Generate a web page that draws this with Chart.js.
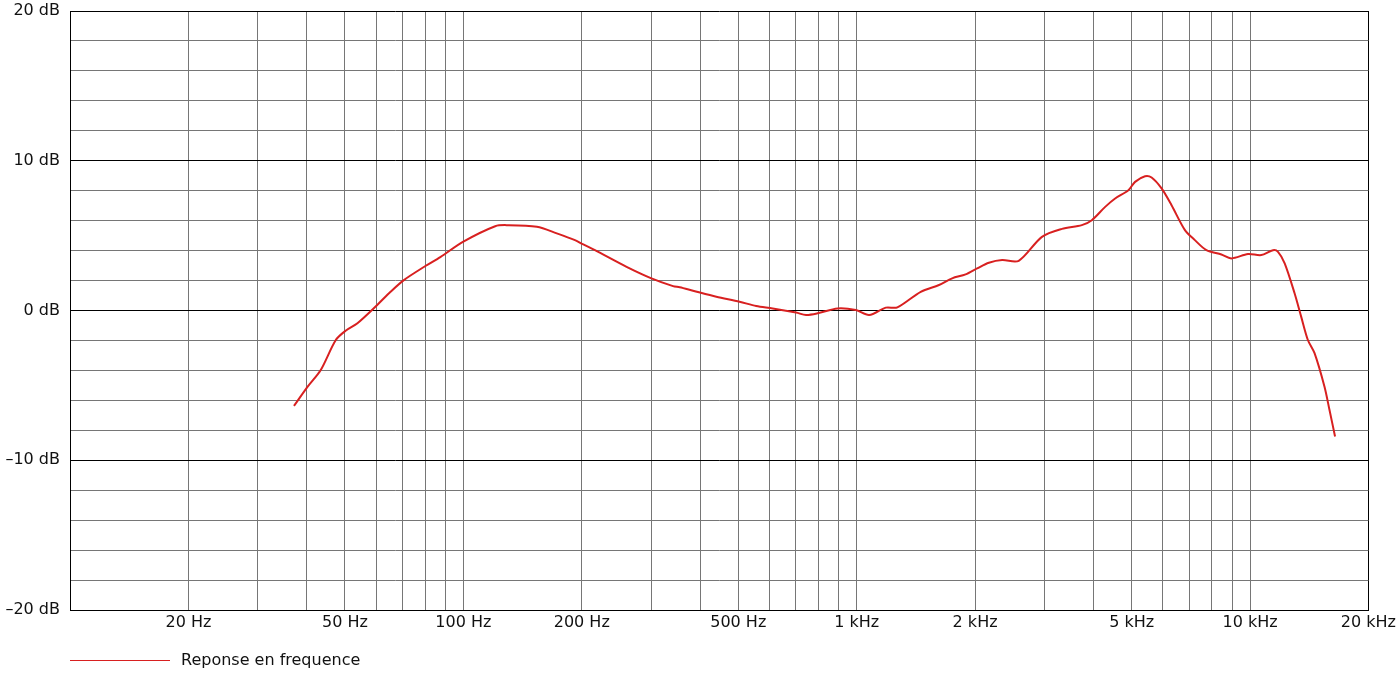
<!DOCTYPE html>
<html>
<head>
<meta charset="utf-8">
<script src="https://cdn.jsdelivr.net/npm/chart.js@4/dist/chart.umd.min.js"></script>
<style>
  html, body { margin: 0; padding: 0; background: #fff; }
  #wrap { width: 1399px; height: 676px; position: relative; }
</style>
</head>
<body>
<div id="wrap"><canvas id="c" width="1399" height="676"></canvas></div>
<script>
const seriesLabel = 'Reponse en frequence';
const freqHz = [37.1, 40.2, 43.4, 47.4, 50.2, 53.8, 60.4, 65.3, 70.6, 80.1, 87.4, 100, 120.5, 129.1, 153.8, 172.8, 192.2, 201.8, 216.1, 260, 300.8, 341.3, 354.9, 383.6, 439.7, 503.7, 555.3, 611.6, 701.5, 743.4, 795.5, 894, 995, 1076, 1186, 1269, 1455, 1619, 1749, 1892, 2024, 2168, 2343, 2582, 2958, 3325, 3736, 3961, 4283, 4540, 4906, 5102, 5409, 5621, 5959, 6317, 6832, 7241, 7748, 8457, 8966, 9883, 10680, 11440, 11780, 12250, 12980, 13490, 14030, 14590, 15460, 15920, 16450];
const levelDb = [-6.37, -5.08, -3.97, -1.97, -1.35, -0.85, 0.37, 1.25, 2.03, 2.97, 3.57, 4.6, 5.63, 5.7, 5.59, 5.15, 4.7, 4.41, 4.03, 2.92, 2.15, 1.63, 1.55, 1.32, 0.92, 0.59, 0.3, 0.14, -0.14, -0.3, -0.19, 0.14, 0.03, -0.3, 0.19, 0.21, 1.25, 1.7, 2.15, 2.41, 2.81, 3.19, 3.37, 3.32, 4.92, 5.45, 5.7, 6.03, 6.92, 7.48, 8.03, 8.59, 8.97, 8.88, 8.15, 7.03, 5.37, 4.7, 4.03, 3.74, 3.48, 3.77, 3.7, 4.03, 3.92, 3.15, 1.15, -0.41, -1.97, -2.85, -5.08, -6.63, -8.41];
const xGridHz = [10, 20, 30, 40, 50, 60, 70, 80, 90, 100, 200, 300, 400, 500, 600, 700, 800, 900, 1000, 2000, 3000, 4000, 5000, 6000, 7000, 8000, 9000, 10000, 20000];
const xLabelHz = [20, 50, 100, 200, 500, 1000, 2000, 5000, 10000, 20000];
const yRange = [-20, 20];
const yLabelStep = 10;
const yGridStep = 2;

const lineColor = '#d82020';
const gridGray = '#767676';
const fontFamily = '"DejaVu Sans", sans-serif';

function fmtHz(v) {
  return v >= 1000 ? (v / 1000) + ' kHz' : v + ' Hz';
}

const legendPlugin = {
  id: 'bottomLegend',
  afterDraw(chart) {
    const ctx = chart.ctx;
    const ds = chart.data.datasets[0];
    const x0 = chart.chartArea.left;
    const y = chart.height - 15.5;
    ctx.save();
    ctx.strokeStyle = ds.borderColor;
    ctx.lineWidth = 1;
    ctx.beginPath();
    ctx.moveTo(x0, y);
    ctx.lineTo(x0 + 100, y);
    ctx.stroke();
    ctx.fillStyle = '#111';
    ctx.font = '16px ' + fontFamily;
    ctx.textBaseline = 'middle';
    ctx.textAlign = 'left';
    ctx.fillText(ds.label, x0 + 111, y);
    ctx.restore();
  }
};

new Chart(document.getElementById('c'), {
  type: 'line',
  data: {
    datasets: [{
      label: seriesLabel,
      data: freqHz.map((f, i) => ({ x: f, y: levelDb[i] })),
      borderColor: lineColor,
      backgroundColor: lineColor,
      borderWidth: 2,
      pointRadius: 0,
      tension: 0.3,
      fill: false
    }]
  },
  plugins: [legendPlugin],
  options: {
    responsive: false,
    animation: false,
    layout: { padding: { top: 11, right: 30, bottom: 0, left: 0 } },
    plugins: { legend: { display: false }, tooltip: { enabled: false } },
    scales: {
      x: {
        type: 'logarithmic',
        min: 10,
        max: 20000,
        afterBuildTicks(scale) { scale.ticks = xGridHz.map(v => ({ value: v })); },
        afterFit(scale) { scale.height = 66; },
        ticks: {
          autoSkip: false,
          maxRotation: 0,
          minRotation: 0,
          padding: 3,
          color: '#111',
          font: { family: fontFamily, size: 16 },
          callback: (v) => xLabelHz.includes(v) ? fmtHz(v) : ''
        },
        grid: {
          drawTicks: false,
          lineWidth: 1,
          color: (c) => (c.tick && (c.tick.value === 20000 || c.tick.value === 10)) ? '#000' : gridGray
        },
        border: { display: true, color: '#000', width: 1 }
      },
      y: {
        min: yRange[0],
        max: yRange[1],
        afterFit(scale) { scale.width = 70; },
        ticks: {
          stepSize: yGridStep,
          autoSkip: false,
          padding: 10,
          color: '#111',
          font: { family: fontFamily, size: 16, lineHeight: 0.1 },
          callback: (v) => v % yLabelStep === 0 ? (v < 0 ? '\u2013' + Math.abs(v) : v) + ' dB' : ''
        },
        grid: {
          drawTicks: false,
          lineWidth: 1,
          color: (c) => (c.tick && c.tick.value % yLabelStep === 0) ? '#000' : gridGray
        },
        border: { display: true, color: '#000', width: 1 }
      }
    }
  }
});
</script>
</body>
</html>
